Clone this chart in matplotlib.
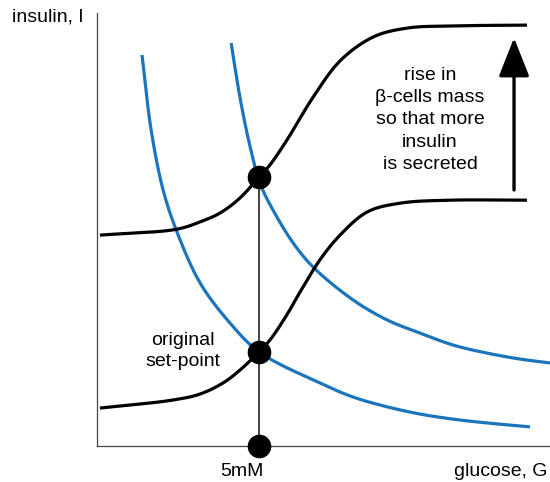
import matplotlib
matplotlib.use("Agg")
import matplotlib.pyplot as plt
import numpy as np

plt.rcParams['font.family'] = ['Liberation Sans', 'DejaVu Sans']

# glucose (mM) / insulin (arbitrary units)
secretion_low_x = [0.09, 2.35, 3.18, 3.89, 4.41, 5.00, 5.34, 5.86, 6.27, 6.88, 7.50, 8.33, 9.35, 10.90, 13.27]
secretion_low_y = [0.89, 1.08, 1.22, 1.48, 1.78, 2.21, 2.49, 3.08, 3.62, 4.37, 4.95, 5.49, 5.70, 5.77, 5.77]

secretion_high_x = [0.09, 2.47, 3.18, 3.80, 4.41, 5.00, 5.34, 5.86, 6.67, 7.50, 8.52, 9.57, 10.90, 13.27]
secretion_high_y = [4.95, 5.09, 5.26, 5.47, 5.82, 6.31, 6.60, 7.18, 8.19, 9.04, 9.60, 9.81, 9.86, 9.88]

demand_left_x = [1.39, 1.67, 2.04, 2.47, 3.18, 4.10, 5.00, 6.88, 7.90, 8.95, 9.97, 10.99, 12.04, 13.36]
demand_left_y = [9.18, 7.42, 6.01, 5.02, 3.83, 2.89, 2.21, 1.48, 1.15, 0.92, 0.75, 0.63, 0.54, 0.45]

demand_right_x = [4.14, 4.41, 4.72, 5.03, 5.43, 6.05, 6.67, 7.90, 8.95, 9.97, 10.99, 12.04, 13.06, 13.98]
demand_right_y = [9.46, 8.19, 7.04, 6.17, 5.54, 4.77, 4.20, 3.43, 2.96, 2.65, 2.37, 2.18, 2.04, 1.95]

setpoint_g = 5.0
setpoint_levels = [0.0, 2.21, 6.31]
arrow_x = 12.87
arrow_from = 6.01
arrow_to = 9.58

blue = '#1b75bc'


def smooth(xs, ys, n=20):
    """Centripetal Catmull-Rom drawing through the read points."""
    P = np.column_stack([xs, ys]).astype(float)
    P = np.vstack([2 * P[0] - P[1], P, 2 * P[-1] - P[-2]])
    out = []
    for i in range(1, len(P) - 2):
        p0, p1, p2, p3 = P[i - 1], P[i], P[i + 1], P[i + 2]
        def tj(ti, a, b):
            return ti + np.linalg.norm(b - a) ** 0.5 + 1e-9
        t0 = 0.0
        t1 = tj(t0, p0, p1)
        t2 = tj(t1, p1, p2)
        t3 = tj(t2, p2, p3)
        t = np.linspace(t1, t2, n)[:, None]
        A1 = (t1 - t) / (t1 - t0) * p0 + (t - t0) / (t1 - t0) * p1
        A2 = (t2 - t) / (t2 - t1) * p1 + (t - t1) / (t2 - t1) * p2
        A3 = (t3 - t) / (t3 - t2) * p2 + (t - t2) / (t3 - t2) * p3
        B1 = (t2 - t) / (t2 - t0) * A1 + (t - t0) / (t2 - t0) * A2
        B2 = (t3 - t) / (t3 - t1) * A2 + (t - t1) / (t3 - t1) * A3
        C = (t2 - t) / (t2 - t1) * B1 + (t - t1) / (t2 - t1) * B2
        out.append(C if i == 1 else C[1:])
    C = np.vstack(out)
    return C[:, 0], C[:, 1]


fig = plt.figure(figsize=(5.5, 4.82), dpi=100)
ax = fig.add_axes([97/550, 36/482, 453/550, 433/482])
ax.set_xlim(0, 13.98)
ax.set_ylim(0, 433/42.6)
for s in ['top', 'right']:
    ax.spines[s].set_visible(False)
for s in ['left', 'bottom']:
    ax.spines[s].set_color('#444444')
    ax.spines[s].set_linewidth(0.9)
ax.set_xticks([])
ax.set_yticks([])

for xs, ys, c in [(demand_left_x, demand_left_y, blue),
                  (demand_right_x, demand_right_y, blue),
                  (secretion_low_x, secretion_low_y, 'black'),
                  (secretion_high_x, secretion_high_y, 'black')]:
    sx, sy = smooth(xs, ys)
    ax.plot(sx, sy, color=c, lw=2.3, solid_capstyle='butt', clip_on=False)

ax.plot([setpoint_g, setpoint_g], [0, max(setpoint_levels)], color='#333333', lw=1.3, zorder=3)
ax.plot([setpoint_g]*len(setpoint_levels), setpoint_levels, 'o', color='black',
        markersize=16, clip_on=False, zorder=5)

ax.annotate('', xy=(arrow_x, arrow_to), xytext=(arrow_x, arrow_from),
            arrowprops=dict(arrowstyle='-|>,head_length=2.4,head_width=0.95',
                            lw=2.4, color='black', shrinkA=0, shrinkB=0))

fs = 14
fig.text(12/550, 1 - 17/482, 'insulin, I', fontsize=fs, ha='left', va='center')
fig.text(548/550, 1 - 472/482, 'glucose, G', fontsize=fs, ha='right', va='center')
fig.text(242/550, 1 - 472/482, '5mM', fontsize=fs, ha='center', va='center')
fig.text(183/550, 1 - 351/482, 'original\nset-point', fontsize=fs, ha='center', va='center',
         linespacing=1.27)
fig.text(430/550, 1 - 120/482, 'rise in\n\u03b2-cells mass\nso that more\ninsulin\nis secreted',
         fontsize=fs, ha='center', va='center', linespacing=1.42)

fig.savefig('out.png', dpi=100)
